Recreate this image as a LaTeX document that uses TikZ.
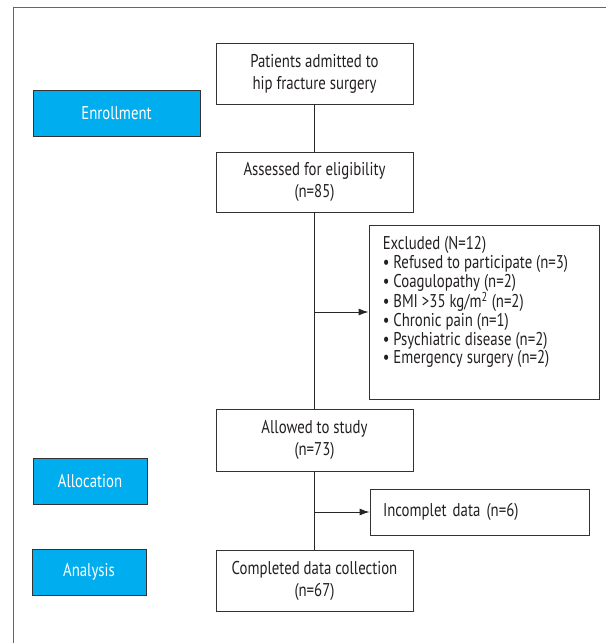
\documentclass[tikz,border=0pt]{standalone}
\usepackage{fontspec}
\setmainfont[FakeStretch=0.8]{PT Sans}
\usepackage{tikz}
\usetikzlibrary{positioning,arrows.meta}

\definecolor{stagecyan}{HTML}{00AEEF}
\definecolor{boxline}{HTML}{333333}
\definecolor{framegray}{HTML}{666666}
\definecolor{inkgray}{HTML}{231F20}

\begin{document}
\begin{tikzpicture}[%
  x=1pt, y=-1pt,
  font=\fontsize{18.5}{22}\selectfont,
  text=inkgray,
  flowbox/.style={draw=boxline, line width=0.9pt, align=center,
    minimum width=197pt, minimum height=61pt, inner sep=2pt},
  sidebox/.style={draw=boxline, line width=0.9pt, align=left,
    inner xsep=13pt, inner ysep=2pt},
  stagebox/.style={draw=boxline, line width=1pt, fill=stagecyan,
    text=white, minimum height=46pt},
  link/.style={draw=black!85, line width=0.9pt},
  edge from parent/.style={draw,-latex}
  ]
  \useasboundingbox (0,0) rectangle (606,643);
  % frame
  \draw[framegray, line width=1pt] (606,7) -| (13,643);

  % stages
  \node[stagebox, minimum width=167pt] (enroll) at (116.5,113.5) {Enrollment};
  \node[stagebox, minimum width=114pt] (alloc) at (90,481) {Allocation};
  \node[stagebox, minimum width=114pt] (analysis) at (89,572) {Analysis};

  % main flow
  \node[flowbox] (admitted) at (314.5,73.5) {Patients admitted to\\hip fracture surgery};
  \node[flowbox, minimum height=60pt] (assessed) at (314.5,182) {Assessed for eligibility\\(n=85)};
  \node[flowbox, minimum height=62pt] (allowed) at (314.5,440) {Allowed to study\\(n=73)};
  \node[flowbox] (completed) at (314.5,580.5) {Completed data collection\\(n=67)};

  % side boxes
  \node[draw=boxline, line width=0.9pt, minimum width=230pt, minimum height=174pt]
    (excluded) at (484,312) {};
  \node[anchor=north west, align=left, inner sep=0pt,
    font=\fontsize{18.5}{18.7}\selectfont]
    (exclist) at ([shift={(14,12)}]excluded.north west)
    {Excluded (N=12)\\
     • Refused to participate (n=3)\\
     • Coagulopathy (n=2)\\
     • BMI >35 kg/m\textsuperscript{2} (n=2)\\
     • Chronic pain (n=1)\\
     • Psychiatric disease (n=2)\\
     • Emergency surgery (n=2)};
  \node[sidebox, text width=193pt, minimum height=46pt] (incomplete) at (479.5,512)
    {Incomplet data (n=6)};

  % connectors
  \draw[link] (admitted) -- (assessed);
  \draw[link] (assessed) -- (allowed);
  \draw[link] (allowed) -- (completed);
  \draw[link, -{Latex[length=10pt,width=7pt]}] (assessed.south |- excluded.west) -- (excluded.west);
  \draw[link, -{Latex[length=10pt,width=7pt]}] (allowed.south |- incomplete.west) -- (incomplete.west);
\end{tikzpicture}
\end{document}
